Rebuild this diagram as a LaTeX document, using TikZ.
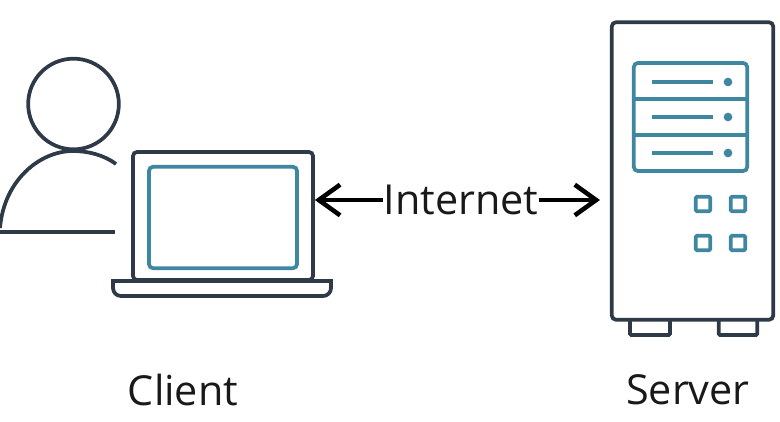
\documentclass[tikz,border=0pt]{standalone}
\usepackage{fontspec}
\setmainfont{Open Sans}
\usetikzlibrary{arrows.meta}
\definecolor{darkline}{HTML}{2E3A47}
\definecolor{tealline}{HTML}{3F86A0}
\tikzset{
    outline/.style={draw=darkline, line width=2.8pt, rounded corners=3pt, inner sep=0pt},
    tealbox/.style={draw=tealline, line width=2.8pt, rounded corners=3pt, inner sep=0pt},
    lamp/.style={circle, fill=tealline, minimum size=6.5pt, inner sep=0pt},
    knob/.style={tealbox, rounded corners=1pt, minimum size=11pt},
    caption/.style={font=\fontsize{31}{36}\selectfont, text=black!90, inner sep=0pt},
    barb/.tip={Straight Barb[length=16pt,width=23pt,line width=3.4pt]}
}
\begin{document}
\begin{tikzpicture}[x=0.75pt, y=-0.75pt]
    \useasboundingbox (0,0) rectangle (780,421);
    % client person
    \node[circle, draw=darkline, line width=2.8pt, minimum size=68pt, inner sep=0pt] (head) at (73.5,104) {};
    \coordinate (shoulderL) at (0,228);
    \coordinate (shoulderR) at (116,164);
    \coordinate (baseL) at (0,232);
    \coordinate (baseR) at (115,232);
    \draw[darkline, line width=2.8pt] (shoulderL) .. controls (4,180) and (40,151) .. (73,151) .. controls (88,151) and (104,155) .. (shoulderR);
    \draw[darkline, line width=2.8pt] (baseL) -- (baseR);
    % laptop
    \node[outline, minimum width=135pt, minimum height=96pt] (lid) at (223,216) {};
    \node[tealbox, minimum width=111pt, minimum height=76pt] (screen) at (223,217.5) {};
    \draw[darkline, line width=2.8pt, fill=white] (113,281) -- (113,288) to[out=-90,in=180] (121,296) -- (323,296) to[out=0,in=-90] (331,288) -- (331,281) -- cycle;
    % server
    \node[outline, rounded corners=1pt, minimum width=30pt, minimum height=15pt] (footL) at (650,325) {};
    \node[outline, rounded corners=1pt, minimum width=29pt, minimum height=15pt] (footR) at (738,325) {};
    \node[outline, fill=white, minimum width=121pt, minimum height=223pt] (server) at (692.5,171) {};
    \node[tealbox, minimum width=85pt, minimum height=81pt] (rack) at (690.5,117) {};
    \coordinate (rowA) at (690.5,99);
    \coordinate (rowB) at (690.5,135);
    \draw[tealline, line width=2.8pt] (rack.west |- rowA) -- (rack.east |- rowA);
    \draw[tealline, line width=2.8pt] (rack.west |- rowB) -- (rack.east |- rowB);
    \foreach \r/\y in {A/82,B/117,C/153} {
        \node[lamp] (lamp\r) at (728,\y) {};
        \coordinate (bar\r) at (652,\y);
        \draw[tealline, line width=2.8pt] (bar\r) -- +(61,0);
    }
    \node[knob] (knobA) at (703,204) {};
    \node[knob] (knobB) at (738,204) {};
    \node[knob] (knobC) at (703,243) {};
    \node[knob] (knobD) at (738,243) {};
    % labels
    \node[caption] (internet) at (461,200) {Internet};
    \node[caption] (client) at (183,390) {Client};
    \node[caption] (serverlabel) at (688,390) {Server};
    % arrows
    \draw[black, line width=3.4pt, {barb}-] (lid.east |- internet) -- (internet.west);
    \draw[black, line width=3.4pt, -{barb}, shorten >=7.5pt] (internet.east) -- (server.west |- internet);
\end{tikzpicture}
\end{document}
